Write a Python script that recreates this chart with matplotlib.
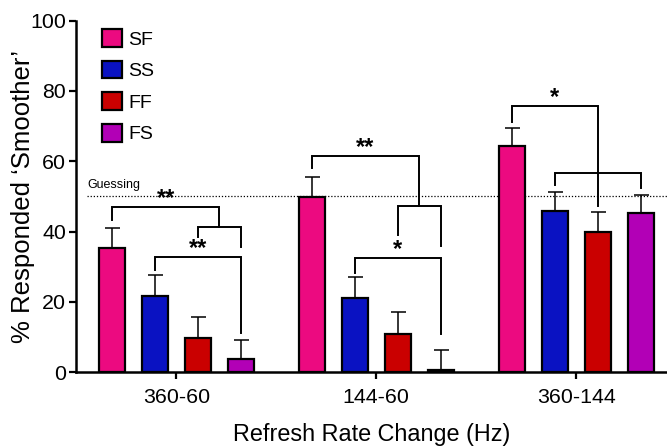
import numpy as np
import matplotlib
matplotlib.use("Agg")
import matplotlib.pyplot as plt
from matplotlib.patches import Patch

plt.rcParams["font.family"] = ["Liberation Sans", "DejaVu Sans"]

# ===== data =====
groups = ["360-60", "144-60", "360-144"]
conds = ["SF", "SS", "FF", "FS"]
colors = ["#EC0A80", "#0A12C2", "#CA0000", "#B200B6"]

sf_mean = [35.2, 49.8, 64.4]
ss_mean = [21.8, 21.2, 46.0]
ff_mean = [9.7, 11.0, 39.9]
fs_mean = [3.7, 0.7, 45.3]

sf_err = [5.7, 5.7, 5.1]
ss_err = [5.8, 6.0, 5.3]
ff_err = [6.1, 6.2, 5.6]
fs_err = [5.5, 5.7, 5.0]

means = [sf_mean, ss_mean, ff_mean, fs_mean]
errs = [sf_err, ss_err, ff_err, fs_err]

guess_level = 50

# 显著性标记: (group, left bar, right bar idx (may be half), top y, left leg y, right leg y, stars)
brackets = [
    (0, 2, 3, 41.4, 38.6, 35.7, ""),
    (0, 0, 2.5, 47.1, 43.3, 41.4, "**"),
    (0, 1, 3, 32.9, 29.1, 11.2, "**"),
    (1, 2, 3, 47.3, 39.0, 35.9, ""),
    (1, 0, 2.5, 61.6, 58.0, 47.3, "**"),
    (1, 1, 3, 32.4, 28.1, 10.9, "*"),
    (2, 1, 3, 56.8, 53.3, 52.5, ""),
    (2, 0, 2, 75.8, 71.3, 47.3, "*"),
]

# ===== layout =====
bar_w = 0.13
step = 0.215
offsets = (np.arange(4) - 1.5) * step
xg = np.arange(len(groups))

fig = plt.figure(figsize=(6.67, 4.48), dpi=100)
ax = fig.add_axes([0.114, 0.169, 0.886, 0.785])

for i in range(4):
    xs = xg + offsets[i]
    ax.errorbar(xs, means[i], yerr=[np.zeros(3), errs[i]], fmt="none",
                ecolor="black", elinewidth=1.1, capsize=5.4, capthick=1.1,
                zorder=2)
    ax.bar(xs, means[i], width=bar_w, color=colors[i], edgecolor="black",
           linewidth=1.6, zorder=3)


def bar_x(g, k):
    return g + (k - 1.5) * step


for g, k1, k2, y, y1, y2, star in brackets:
    x1 = bar_x(g, k1)
    x2 = bar_x(g, k2)
    ax.plot([x1, x1, x2, x2], [y1, y, y, y2], color="black", lw=1.4,
            solid_joinstyle="miter", zorder=4)
    if star:
        ax.text((x1 + x2) / 2, y + 2.4, star, ha="center", va="center",
                fontsize=17, fontweight="bold", zorder=5)

# guessing line
ax.plot([-0.4475, 2.47], [guess_level, guess_level], color="black", lw=0.9,
        linestyle=(0, (1, 1.5)), zorder=1)
ax.text(-0.4475, 53.2, "Guessing", fontsize=9, ha="left", va="center")

ax.set_xlim(-0.5025, 2.455)
ax.set_ylim(0, 100)
ax.set_yticks([0, 20, 40, 60, 80, 100])
ax.set_xticks(xg)
ax.set_xticklabels(groups)

for s in ["top", "right"]:
    ax.spines[s].set_visible(False)
ax.spines["left"].set_linewidth(1.8)
ax.spines["bottom"].set_linewidth(1.8)
ax.tick_params(axis="both", length=5, width=1.6, labelsize=15.4, pad=2)
ax.tick_params(axis="x", pad=6.5)

ax.set_ylabel("% Responded \u2018Smoother\u2019", fontsize=18.5, labelpad=-3)
ax.set_xlabel("Refresh Rate Change (Hz)", fontsize=16.8, labelpad=11)

handles = [Patch(facecolor=c, edgecolor="black", linewidth=1.6) for c in colors]
ax.legend(handles, conds, loc="upper left", bbox_to_anchor=(0.0435, 0.976),
          frameon=False, fontsize=14, handlelength=1.03, handleheight=1.03,
          handletextpad=0.33, labelspacing=0.62, borderpad=0, borderaxespad=0)

plt.savefig("out.png", dpi=100)
